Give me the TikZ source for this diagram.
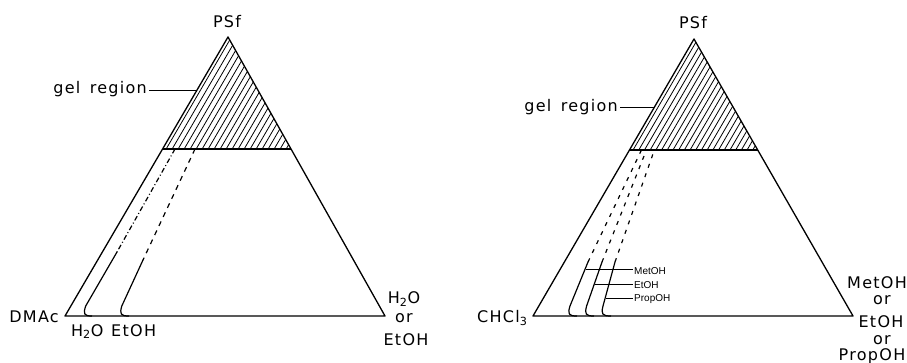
\documentclass[tikz,border=0pt]{standalone}
\usepackage{fontspec}
\setmainfont{DejaVu Sans}[LetterSpace=8]
\newfontfamily\tagfont{Liberation Sans}
\usetikzlibrary{calc}

\tikzset{
  edge/.style={line width=1.3pt, line join=round},
  hatchline/.style={line width=0.8pt},
  curve/.style={line width=1.2pt},
  dashcurve/.style={line width=1.2pt, dash pattern=on 5pt off 5pt},
  shortdash/.style={line width=1.2pt, dash pattern=on 4pt off 6pt},
  dashdotcurve/.style={line width=1.2pt, dash pattern=on 5pt off 2.5pt on 1pt off 2.5pt},
  leader/.style={line width=1pt},
  lbl/.style={inner sep=0pt, font=\fontsize{16}{19}\selectfont},
  tag/.style={inner sep=0pt, font=\tagfont\fontsize{10}{12}\selectfont}
}

\begin{document}
\begin{tikzpicture}[x=1pt, y=-1pt]
\useasboundingbox (0,0) rectangle (907,363);

% ---------------- left diagram: PSf / DMAc / H2O or EtOH ----------------
\coordinate (LA) at (228,37);
\coordinate (LL) at (65,316);
\coordinate (LR) at (385,316);
\coordinate (LgL) at ($(LA)!0.4014!(LL)$);
\coordinate (LgR) at ($(LA)!0.4014!(LR)$);
\coordinate (Llead) at ($(LA)!0.19!(LL)$);

% gel region hatching
\begin{scope}
  \clip (LA) -- (LgL) -- (LgR) -- cycle;
  \foreach \i in {0,...,23}
    \draw[hatchline] ($(LgL)+(3+6*\i,1)$) -- ++(77,-132);
\end{scope}

\draw[edge] (LA) -- (LL) -- (LR) -- cycle;
\draw[edge] (LgL) -- (LgR);

% binodal curves
\coordinate (L1t) at (175,149);
\coordinate (L1s) at (117,252);
\coordinate (L1p) at (85.7,306);
\coordinate (L1b) at (92,316);
\coordinate (L2t) at (195,149);
\coordinate (L2s) at (143,260);
\coordinate (L2p) at (121.8,306);
\coordinate (L2b) at (129,316);

\draw[dashdotcurve] (L1t) -- (L1s);
\draw[curve] (L1s) -- (L1p) .. controls (83,314) and (84,316) .. (L1b);
\draw[dashcurve] (L2t) -- (L2s);
\draw[curve] (L2s) -- (L2p) .. controls (119.5,314) and (120.5,316) .. (L2b);

% labels
\node[lbl, anchor=base] (psfL) at (227,28) {PSf};
\node[lbl, anchor=base east] (gelL) at (147,94) {gel\hspace{3pt} region};
\draw[leader] ([xshift=2pt]gelL.east |- Llead) -- (Llead);
\node[lbl, anchor=base east] (dmac) at (59,322) {DMAc};
\node[lbl, anchor=base west] (h2oB) at (71,336) {H\textsubscript{2}O};
\node[lbl, anchor=base west] (etohB) at (111,336) {EtOH};
\node[lbl, anchor=base] (h2oR) at (404,303.5) {H\textsubscript{2}O};
\node[lbl, anchor=base] (orR) at (404,322.5) {or};
\node[lbl, anchor=base] (etohR) at (406,345) {EtOH};

% ---------------- right diagram: PSf / CHCl3 / alcohols ----------------
\coordinate (RA) at (694,39);
\coordinate (RL) at (533,316);
\coordinate (RR) at (853,316);
\coordinate (RgL) at ($(RA)!0.4007!(RL)$);
\coordinate (RgR) at ($(RA)!0.4007!(RR)$);
\coordinate (Rlead) at ($(RA)!0.249!(RL)$);

\begin{scope}
  \clip (RA) -- (RgL) -- (RgR) -- cycle;
  \foreach \i in {0,...,24}
    \draw[hatchline] ($(RgL)+(3+5.7*\i,1)$) -- ++(77,-132);
\end{scope}

\draw[edge] (RA) -- (RL) -- (RR) -- cycle;
\draw[edge] (RgL) -- (RgR);

% binodal curves
\coordinate (R1t) at (641,151);
\coordinate (R1s) at (588,262);
\coordinate (R1p) at (570,306);
\coordinate (R1b) at (577,316);
\coordinate (R2t) at (646,151);
\coordinate (R2s) at (602,262);
\coordinate (R2p) at (586.6,306);
\coordinate (R2b) at (594,316);
\coordinate (R3t) at (654,151);
\coordinate (R3s) at (615,262);
\coordinate (R3p) at (603,306);
\coordinate (R3b) at (611,316);

\draw[shortdash] (R1s) -- (R1t);
\draw[shortdash] (R2s) -- (R2t);
\draw[shortdash] (R3s) -- (R3t);
\draw[curve] (R1s) -- (R1p) .. controls (567.5,314) and (568.5,316) .. (R1b);
\draw[curve] (R2s) -- (R2p) .. controls (584.5,314) and (585.5,316) .. (R2b);
\draw[curve] (R3s) -- (R3p) .. controls (601,314) and (602,316) .. (R3b);

% curve tags
\coordinate (m1) at (585.5,269.3);
\coordinate (m2) at (594.8,284);
\coordinate (m3) at (605.5,298.3);
\node[tag, anchor=base west] (metS) at (634,275) {MetOH};
\node[tag, anchor=base west] (etS) at (634,288) {EtOH};
\node[tag, anchor=base west] (propS) at (634,301.5) {PropOH};
\draw[leader] (m1) -- ([xshift=-1.5pt]m1 -| metS.west);
\draw[leader] (m2) -- ([xshift=-1.5pt]m2 -| etS.west);
\draw[leader] (m3) -- ([xshift=-1.5pt]m3 -| propS.west);

% labels
\node[lbl, anchor=base] (psfR) at (693,29) {PSf};
\node[lbl, anchor=base east] (gelR) at (618,112) {gel\hspace{3pt} region};
\draw[leader] ([xshift=2pt]gelR.east |- Rlead) -- (Rlead);
\node[lbl, anchor=base west] (chcl) at (477,322.5) {CHCl\textsubscript{3}};
\node[lbl, anchor=base] (metR) at (877,288.3) {MetOH};
\node[lbl, anchor=base] (or1) at (882,304.3) {or};
\node[lbl, anchor=base] (etR) at (881,327.8) {EtOH};
\node[lbl, anchor=base] (or2) at (882,344) {or};
\node[lbl, anchor=base] (propR) at (872,360.5) {PropOH};
\end{tikzpicture}
\end{document}
